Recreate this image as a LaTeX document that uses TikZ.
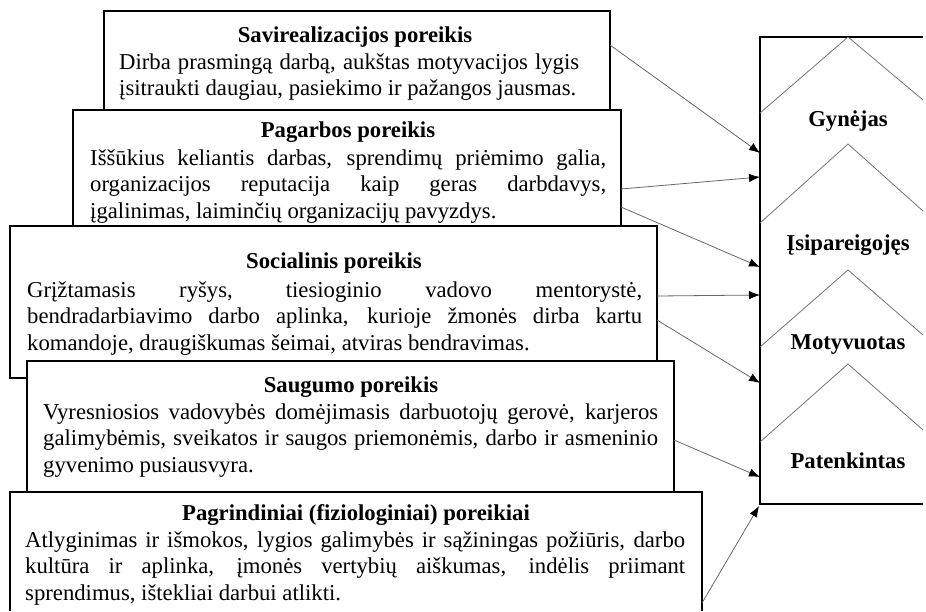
\documentclass[tikz,border=0pt]{standalone}
\usepackage{fontspec}
\setmainfont{Liberation Serif}
\usetikzlibrary{arrows.meta}
\hyphenpenalty=10000
\exhyphenpenalty=10000
\tolerance=10000
\hbadness=10000
\begin{document}
\begin{tikzpicture}[x=1pt,y=-1pt,
  pbox/.style={draw=black, line width=1.3pt, fill=white, inner sep=0pt, outer sep=0pt, anchor=north west},
  frame/.style={inner sep=0pt, outer sep=0pt, anchor=north west},
  ttl/.style={anchor=base, inner sep=0pt, font=\fontsize{22.7}{26.5}\selectfont\bfseries},
  bodytext/.style={anchor=north west, inner sep=0pt, align=justify, font=\fontsize{22.7}{26.5}\selectfont},
  conn/.style={draw=black!60, line width=0.8pt, -{Latex[length=11pt,width=8.5pt,color=black]}},
  chev/.style={draw=black!55, line width=0.8pt},
  lvl/.style={anchor=base, inner sep=0pt, font=\fontsize{22.7}{26.5}\selectfont\bfseries}]
\path[use as bounding box] (0,0) rectangle (926,611);

% boxes
\node[pbox, minimum width=506pt, minimum height=99pt] (b1) at (104,11) {};
\node[ttl] (t1) at (355,42) {Savirealizacijos poreikis};
\node[bodytext, text width=460pt] (x1) at (119,50.45) {\strut Dirba prasmingą darbą, aukštas motyvacijos lygis\linebreak įsitraukti daugiau, pasiekimo ir pažangos jausmas.};

\node[pbox, minimum width=548pt, minimum height=116pt] (b2) at (73,110) {};
\node[ttl] (t2) at (348,137) {Pagarbos poreikis};
\node[bodytext, text width=516pt] (x2) at (90,146.45) {\strut Iššūkius keliantis darbas, sprendimų priėmimo galia,\linebreak organizacijos reputacija kaip geras darbdavys,\linebreak įgalinimas, laiminčių organizacijų pavyzdys.};

\node[pbox, minimum width=647pt, minimum height=152pt] (b3) at (10,226) {};
\node[ttl] (t3) at (334,268) {Socialinis poreikis};
\node[bodytext, text width=615pt] (x3) at (27,278.45) {\strut Grįžtamasis ryšys, tiesioginio vadovo mentorystė,\linebreak bendradarbiavimo darbo aplinka, kurioje žmonės dirba kartu\linebreak komandoje, draugiškumas šeimai, atviras bendravimas.};

\node[pbox, minimum width=647pt, minimum height=131pt] (b4) at (27,361) {};
\node[ttl] (t4) at (351,392) {Saugumo poreikis};
\node[bodytext, text width=615pt] (x4) at (43,400.45) {\strut Vyresniosios vadovybės domėjimasis darbuotojų gerovė, karjeros\linebreak galimybėmis, sveikatos ir saugos priemonėmis, darbo ir asmeninio\linebreak gyvenimo pusiausvyra.};

% bottom box: its lower edge lies below the picture, so only three sides show
\node[frame, minimum width=692pt, minimum height=119pt] (b5) at (10,492) {};
\fill[white] (b5.north west) rectangle (b5.south east);
\draw[line width=1.3pt] (b5.south west) -- (b5.north west) -- (b5.north east) -- (b5.south east);
\node[ttl] (t5) at (356,520) {Pagrindiniai (fiziologiniai) poreikiai};
\node[bodytext, text width=660pt] (x5) at (25,528.45) {\strut Atlyginimas ir išmokos, lygios galimybės ir sąžiningas požiūris, darbo\linebreak kultūra ir aplinka, įmonės vertybių aiškumas, indėlis priimant\linebreak sprendimus, ištekliai darbui atlikti.};

% right column (open on the right: it runs to the picture edge)
\node[frame, minimum width=163pt, minimum height=467pt] (R) at (760,37) {};
\draw[line width=1.5pt] (R.north east) -- (R.north west) -- (R.south west) -- (R.south east);
\draw[chev] (760,113) -- (848,37) -- (923,100);
\draw[chev] (760,223) -- (848,144) -- (923,211);
\draw[chev] (760,347) -- (848,270) -- (923,335);
\draw[chev] (760,442) -- (848,364) -- (923,430);
\node[lvl] (l1) at (848,126) {Gynėjas};
\node[lvl] (l2) at (848,250) {Įsipareigojęs};
\node[lvl] (l3) at (848,349) {Motyvuotas};
\node[lvl] (l4) at (848,468) {Patenkintas};

% connectors
\draw[conn] ([yshift=-34pt]b1.north east) -- ([yshift=-116pt]R.north west);
\draw[conn] ([yshift=-79pt]b2.north east) -- ([yshift=-140pt]R.north west);
\draw[conn] ([yshift=-97pt]b2.north east) -- ([yshift=-230pt]R.north west);
\draw[conn] ([yshift=-70pt]b3.north east) -- ([yshift=-258pt]R.north west);
\draw[conn] ([yshift=-94pt]b3.north east) -- ([yshift=-346pt]R.north west);
\draw[conn] ([yshift=-79pt]b4.north east) -- ([yshift=-440pt]R.north west);
\draw[conn] ([yshift=-111pt]b5.north east) -- ([shift={(-1pt,-2pt)}]R.south west);
\end{tikzpicture}
\end{document}
